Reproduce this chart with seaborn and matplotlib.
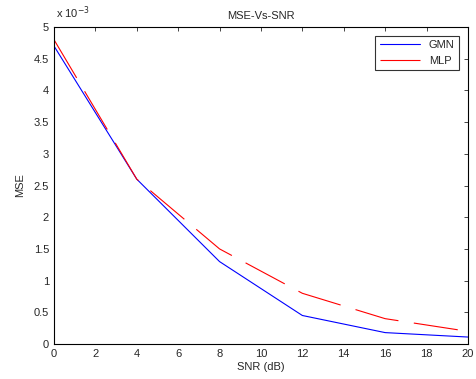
import numpy as np
import pandas as pd
import matplotlib
matplotlib.use('Agg')
import matplotlib.pyplot as plt
import matplotlib.ticker as mticker
import seaborn as sns

# Data
snr = [0, 4, 8, 12, 16, 20]
gmn = [4.7e-3, 2.6e-3, 1.3e-3, 0.45e-3, 0.18e-3, 0.11e-3]
mlp = [4.8e-3, 2.6e-3, 1.5e-3, 0.8e-3, 0.4e-3, 0.2e-3]

df = pd.DataFrame({'snr': snr * 2,
                   'mse': gmn + mlp,
                   'model': ['GMN'] * len(snr) + ['MLP'] * len(snr)})

sns.set_style('white')
plt.rcParams['font.family'] = ['Liberation Sans', 'DejaVu Sans']

fig = plt.figure(figsize=(4.76, 3.79), dpi=100)
ax = fig.add_axes([0.1134, 0.0923, 0.8696, 0.8365])

sns.lineplot(data=df, x='snr', y='mse', hue='model', style='model',
             palette={'GMN': 'blue', 'MLP': 'red'},
             dashes={'GMN': '', 'MLP': (40, 14)},
             linewidth=0.8, ax=ax)

ax.set_xlim(0, 20)
ax.set_ylim(0, 5e-3)
ax.set_xticks(np.arange(0, 21, 2))
ax.set_yticks(np.arange(0, 5.01e-3, 0.5e-3))
ax.yaxis.set_major_formatter(mticker.FuncFormatter(lambda v, p: '%g' % round(v * 1e3, 2)))
fig.text(0.117, 0.945, r'x 10$^{-3}$', fontsize=8, ha='left', va='bottom')

ax.tick_params(direction='in', length=3, top=True, right=True, labelsize=8, width=0.6)
for s in ax.spines.values():
    s.set_linewidth(0.8)
    s.set_color('black')

ax.set_title('MSE-Vs-SNR', fontsize=8)
ax.set_xlabel('SNR (dB)', fontsize=8, labelpad=2)
ax.set_ylabel('MSE', fontsize=8, labelpad=6)

leg = ax.legend(loc='upper right', fontsize=8, frameon=True, fancybox=False,
                edgecolor='black', handlelength=3.6, borderaxespad=0.8)
leg.get_frame().set_linewidth(0.8)

fig.savefig('out.png', dpi=100)
